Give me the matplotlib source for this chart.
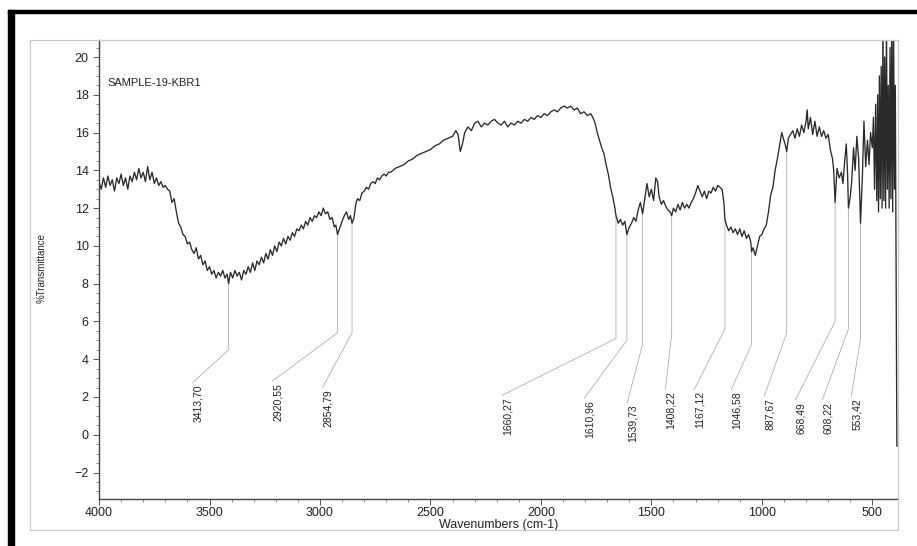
import numpy as np
import matplotlib
matplotlib.use("Agg")
import matplotlib.pyplot as plt
from matplotlib.patches import Rectangle

plt.rcParams['font.family'] = ['Liberation Sans', 'DejaVu Sans']

# FTIR trace, wavenumber (cm-1) vs %T, read point by point
wavenumber = [
    4000, 3990, 3980, 3970, 3960, 3950, 3940, 3930, 3920, 3910, 3900, 3890, 3880, 3870, 3860,
    3850, 3840, 3830, 3820, 3810, 3800, 3790, 3780, 3770, 3760, 3750, 3740, 3730, 3720, 3710,
    3700, 3690, 3680, 3670, 3660, 3650, 3640, 3630, 3620, 3610, 3600, 3590, 3580, 3570, 3560,
    3550, 3540, 3530, 3520, 3510, 3500, 3490, 3480, 3470, 3460, 3450, 3440, 3430, 3420, 3413.70,
    3405, 3395, 3385, 3375, 3365, 3355, 3345, 3335, 3325, 3315, 3305, 3295, 3285, 3275, 3265,
    3255, 3245, 3235, 3225, 3215, 3205, 3195, 3185, 3175, 3165, 3155, 3145, 3135, 3125, 3115,
    3105, 3095, 3085, 3075, 3065, 3055, 3045, 3035, 3025, 3015, 3005, 2995, 2985, 2975, 2965,
    2955, 2945, 2935, 2928, 2920.55, 2912, 2900, 2890, 2880, 2870, 2862, 2854.79, 2846, 2838, 2830,
    2820, 2810, 2800, 2790, 2780, 2770, 2760, 2750, 2740, 2730, 2720, 2710, 2700, 2690, 2680,
    2660, 2640, 2620, 2600, 2580, 2560, 2540, 2520, 2500, 2480, 2460, 2440, 2420, 2400, 2385,
    2375, 2365, 2355, 2345, 2330, 2315, 2300, 2285, 2270, 2255, 2240, 2225, 2210, 2195, 2180,
    2165, 2150, 2135, 2120, 2105, 2090, 2075, 2060, 2045, 2030, 2015, 2000, 1985, 1970, 1955,
    1940, 1925, 1910, 1895, 1880, 1865, 1850, 1835, 1820, 1805, 1790, 1775, 1765, 1755, 1745,
    1735, 1725, 1715, 1705, 1695, 1685, 1675, 1665, 1660.27, 1650, 1640, 1630, 1620, 1610.96, 1600,
    1590, 1580, 1570, 1560, 1550, 1539.73, 1530, 1520, 1510, 1500, 1490, 1480, 1472, 1465, 1455,
    1445, 1435, 1425, 1415, 1408.22, 1400, 1390, 1380, 1370, 1360, 1350, 1340, 1330, 1320, 1310,
    1300, 1290, 1280, 1270, 1260, 1250, 1240, 1230, 1220, 1210, 1200, 1190, 1180, 1172, 1167.12,
    1160, 1150, 1140, 1130, 1120, 1110, 1100, 1090, 1080, 1070, 1060, 1050, 1046.58, 1040, 1030,
    1020, 1010, 1000, 990, 980, 970, 960, 950, 940, 930, 920, 910, 900, 893, 887.67,
    880, 870, 860, 850, 840, 830, 820, 810, 800, 795, 790, 780, 770, 760, 750,
    740, 730, 720, 710, 700, 690, 680, 675, 668.49, 660, 650, 640, 633, 625, 618,
    612, 608.22, 600, 593, 585, 578, 570, 562, 553.42, 545, 538, 530, 522, 515, 508,
    500, 495, 490, 485, 480, 476, 472, 468, 464, 460, 456, 452, 448, 444, 440,
    436, 432, 428, 424, 420, 416, 412, 408, 404, 400, 396, 392, 389,
]
transmittance = [
    13.4, 13.0, 13.6, 13.1, 13.7, 13.2, 13.5, 12.9, 13.6, 13.3, 13.8, 13.2, 13.6, 13.0, 13.7,
    13.4, 13.9, 13.5, 14.1, 13.6, 13.9, 13.4, 14.2, 13.5, 13.9, 13.3, 13.6, 13.2, 13.4, 13.1,
    13.2, 13.0, 12.9, 12.3, 12.5, 11.8, 11.2, 11.0, 10.6, 10.5, 10.1, 10.2, 9.8, 9.6, 9.9,
    9.3, 9.5, 9.0, 9.2, 8.7, 8.9, 8.5, 8.7, 8.3, 8.6, 8.4, 8.7, 8.3, 8.5, 8.0,
    8.6, 8.3, 8.7, 8.4, 8.6, 8.2, 8.7, 8.5, 8.9, 8.6, 9.1, 8.7, 9.2, 9.0, 9.4,
    9.1, 9.6, 9.3, 9.8, 9.5, 10.0, 9.7, 10.2, 10.0, 10.4, 10.1, 10.5, 10.3, 10.7, 10.5,
    10.9, 10.8, 11.1, 10.9, 11.3, 11.1, 11.5, 11.3, 11.6, 11.5, 11.8, 11.6, 12.0, 11.7, 11.8,
    11.4, 11.5, 11.0, 11.1, 10.6, 10.9, 11.3, 11.6, 11.8, 11.4, 11.6, 11.2, 11.5, 12.2, 12.5,
    12.4, 12.8, 12.9, 13.1, 13.0, 13.3, 13.4, 13.3, 13.6, 13.5, 13.7, 13.8, 13.7, 13.9, 13.9,
    14.1, 14.2, 14.3, 14.5, 14.6, 14.8, 14.9, 15.0, 15.1, 15.3, 15.4, 15.6, 15.7, 15.8, 16.1,
    15.9, 15.0, 15.4, 16.0, 16.3, 16.1, 16.5, 16.6, 16.3, 16.5, 16.4, 16.6, 16.7, 16.5, 16.4,
    16.6, 16.3, 16.5, 16.4, 16.6, 16.5, 16.7, 16.6, 16.8, 16.7, 16.9, 16.8, 17.0, 16.9, 17.1,
    17.2, 17.1, 17.3, 17.4, 17.3, 17.4, 17.2, 17.3, 17.0, 17.1, 16.9, 17.0, 16.8, 16.5, 16.0,
    15.6, 15.2, 14.9, 14.3, 13.8, 13.1, 12.6, 12.0, 11.6, 11.2, 11.4, 11.1, 11.3, 10.6, 11.0,
    11.2, 11.5, 11.3, 11.9, 12.3, 11.7, 12.5, 13.3, 12.6, 13.0, 12.4, 13.6, 13.4, 12.6, 12.2,
    12.4, 12.1, 11.9, 11.8, 11.6, 12.0, 11.8, 12.2, 11.9, 12.3, 12.0, 12.2, 12.0, 12.3, 12.5,
    12.8, 13.2, 12.9, 12.6, 12.9, 12.5, 12.9, 12.8, 13.1, 12.9, 13.2, 13.1, 13.0, 12.3, 11.4,
    11.1, 10.8, 11.0, 10.7, 10.9, 10.6, 10.9, 10.5, 10.8, 10.4, 10.6, 10.2, 9.7, 9.9, 9.5,
    10.0, 10.5, 10.6, 10.9, 11.1, 11.8, 12.7, 13.1, 14.0, 14.6, 15.3, 16.0, 15.6, 15.3, 15.0,
    15.7, 15.9, 16.1, 15.7, 16.2, 15.8, 16.4, 16.0, 16.6, 17.2, 16.2, 16.8, 15.9, 16.6, 15.8,
    16.3, 15.8, 16.1, 15.7, 15.9, 15.1, 14.6, 14.0, 12.3, 14.1, 13.6, 13.9, 13.3, 14.5, 15.4,
    13.8, 12.0, 12.6, 13.5, 15.2, 14.0, 15.8, 14.6, 11.2, 13.7, 16.6, 14.2, 15.6, 14.3, 16.0,
    15.2, 16.8, 13.0, 17.5, 12.4, 18.0, 11.8, 19.0, 12.5, 19.5, 12.0, 22.0, 12.4, 20.0, 12.0,
    22.0, 13.0, 18.5, 12.0, 20.5, 12.5, 22.0, 11.8, 22.0, 13.0, 18.5, 7.0, -0.6,
]

# labelled bands
peak_wn = [3413.70, 2920.55, 2854.79, 1660.27, 1610.96, 1539.73, 1408.22,
           1167.12, 1046.58, 887.67, 668.49, 608.22, 553.42]

# where each leader bends and where its label sits
knee_t = [4.5, 5.4, 5.4, 5.1, 5.0, 4.8, 5.3, 5.6, 4.8, 5.4, 6.0, 5.6, 5.1]
label_wn = [3552, 3190, 2964, 2149, 1778, 1584, 1412, 1281, 1113, 964, 823, 701, 570]
label_top = [2.65, 2.75, 2.4, 2.0, 1.85, 1.6, 2.3, 2.3, 2.3, 1.95, 1.75, 1.75, 1.95]

fig = plt.figure(figsize=(9.17, 5.46), dpi=100)
ax = fig.add_axes([0.108, 0.0861, 0.871, 0.8406])

ax.plot(wavenumber, transmittance, color='#2a2a2a', lw=0.95)

wn_up = np.array(wavenumber)[::-1]
t_up = np.array(transmittance)[::-1]
for w, k, lw_, lt in zip(peak_wn, knee_t, label_wn, label_top):
    t0 = np.interp(w, wn_up, t_up)
    ax.plot([w, w, lw_ + 25], [t0, k, lt + 0.1], color='#b0b0b0', lw=0.6, zorder=1)
    ax.text(lw_, lt, f"{w:.2f}".replace('.', ','), rotation=90, ha='center', va='top',
            fontsize=7.5, color='#222222')

ax.text(3964, 18.6, "SAMPLE-19-KBR1", fontsize=8, color='#222222', va='center')

ax.set_xlim(4000, 385)
ax.set_ylim(-3.4, 20.9)
ax.set_xticks([4000, 3500, 3000, 2500, 2000, 1500, 1000, 500])
ax.set_xticks(np.arange(500, 4000, 100), minor=True)
ax.set_yticks(np.arange(-2, 21, 2))
ax.set_yticks(np.arange(-3, 21, 0.5), minor=True)
ax.tick_params(which='major', length=4, width=0.7, color='#555555', labelsize=9,
               labelcolor='#222222')
ax.tick_params(axis='x', which='major', pad=2)
ax.tick_params(which='minor', length=2.5, width=0.6, color='#777777')

ax.set_xlabel("Wavenumbers (cm-1)", fontsize=9, color='#222222', labelpad=0)
ax.set_ylabel("%Transmittance", fontsize=7, color='#222222')
ax.yaxis.set_label_coords(-0.066, 0.503)

for s in ['left', 'bottom']:
    ax.spines[s].set_color('#444444')
    ax.spines[s].set_linewidth(1.0)
for s in ['top', 'right']:
    ax.spines[s].set_color('#bbbbbb')
    ax.spines[s].set_linewidth(0.8)

# light outer frame and the heavy black edge along top and left
W, H = 917, 546
fig.patches.append(Rectangle((30 / W, 1 - 530 / H), 868 / W, 490 / H, fill=False,
                             edgecolor='#c8c8c8', lw=0.8, transform=fig.transFigure))
fig.patches.append(Rectangle((8 / W, 1 - 13 / H), 1 - 8 / W, 3.5 / H, color='black',
                             transform=fig.transFigure))
fig.patches.append(Rectangle((8 / W, 0), 6 / W, 1 - 10 / H, color='black',
                             transform=fig.transFigure))

fig.savefig("out.png", dpi=100)
